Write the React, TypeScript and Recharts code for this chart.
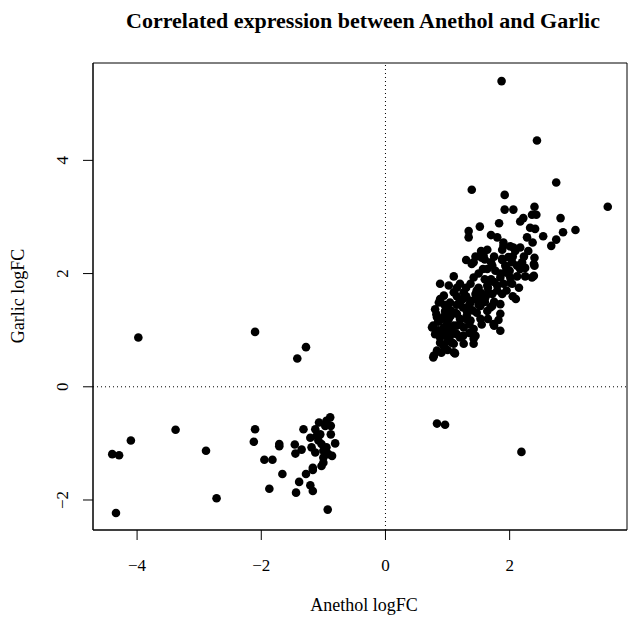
import React from "react"
import {
  ScatterChart,
  Scatter,
  XAxis,
  YAxis,
  ReferenceLine,
  ReferenceArea,
} from "recharts"

// genes up in both conditions (upper right cluster)
const upAnethol = [
  1.87, 2.44, 2.75, 1.39, 3.58, 1.92, 1.92, 2.06, 2.4, 2.36, 2.43, 2.17, 2.22, 1.83, 2.82,
  1.52, 1.34, 1.34, 1.7, 1.8, 2.33, 2.41, 2.86, 3.06, 2.54, 2.75, 2.67, 2.28, 2.37, 1.9,
  1.54, 1.64, 1.88, 2.01, 2.17, 2.09, 2.23, 2.4, 2.4, 1.3, 1.42, 1.55, 1.88, 1.98, 2.04,
  1.93, 2.12, 1.57, 1.77, 1.93, 2.17, 2.12, 2.01, 2.36, 1.85, 1.42, 1.1, 0.88, 1.02, 1.2,
  1.37, 1.64, 1.8, 2.04, 1.72, 1.88, 1.61, 1.45, 1.26, 1.1, 0.94, 0.86, 1.04, 1.2, 1.37,
  1.53, 1.72, 1.85, 0.8, 0.96, 1.12, 1.31, 1.47, 1.64, 1.85, 0.83, 1.02, 1.2, 1.37, 1.53,
  0.77, 0.94, 1.1, 1.26, 1.42, 1.74, 1.82, 0.8, 0.99, 1.15, 1.45, 0.88, 1.07, 1.26, 1.42,
  0.83, 0.96, 1.12, 0.77, 0.78, 1.1, 1.42, 1.85, 1.75, 0.75, 1.39, 1.58, 1.64, 1.72, 1.88,
  1.9, 2.06, 2.39, 2.39, 1.96, 2.01, 1.9, 1.8, 1.64, 1.47, 1.37, 1.69, 1.2, 0.88, 1.15,
  1.31, 0.99, 1.15, 0.88, 1.04, 1.2, 0.94, 1.1, 1.0, 1.3, 1.55, 1.15, 1.25, 1.6, 1.05,
  0.9, 1.35, 1.6, 1.7, 2.0, 2.2, 2.3, 1.75, 1.5, 1.0, 0.85, 2.1, 2.15,
  0.85, 0.95, 1.05, 1.15, 1.25, 1.0, 1.1, 1.2, 1.3, 1.4, 1.5, 0.9, 1.05, 1.35, 1.45,
  1.55, 1.65, 1.75, 1.85, 1.95, 2.05, 1.7, 1.5, 1.3, 1.15, 0.95, 0.82, 1.0, 0.9, 1.25,
  1.35, 1.55, 1.65, 1.75, 1.95, 2.05, 2.25, 2.25, 1.6, 1.45,
]
const upGarlic = [
  5.4, 4.35, 3.61, 3.48, 3.18, 3.39, 3.13, 3.13, 3.18, 3.04, 3.04, 2.92, 2.98, 2.89, 2.98,
  2.83, 2.75, 2.64, 2.68, 2.64, 2.81, 2.79, 2.73, 2.77, 2.66, 2.6, 2.49, 2.64, 2.55, 2.55,
  2.4, 2.42, 2.42, 2.48, 2.46, 2.4, 2.3, 2.28, 2.14, 2.24, 2.2, 2.28, 2.24, 2.29, 2.2,
  2.14, 2.14, 2.08, 2.05, 2.02, 2.08, 1.95, 1.93, 1.93, 1.93, 1.93, 1.95, 1.82, 1.79, 1.82,
  1.82, 1.79, 1.79, 1.82, 1.64, 1.64, 1.58, 1.64, 1.67, 1.67, 1.61, 1.49, 1.49, 1.46, 1.49,
  1.43, 1.43, 1.46, 1.37, 1.34, 1.31, 1.34, 1.31, 1.34, 1.29, 1.23, 1.2, 1.2, 1.17, 1.2,
  1.08, 1.05, 1.08, 1.05, 1.02, 1.11, 1.18, 0.93, 0.9, 0.93, 0.9, 0.78, 0.78, 0.76, 0.76,
  0.64, 0.67, 0.59, 0.52, 0.55, 0.61, 0.85, 0.99, 1.08, 1.05, 2.17, 2.32, 2.08, 2.14, 2.26,
  2.49, 2.46, 2.17, 1.96, 2.02, 1.84, 1.82, 1.7, 1.64, 1.7, 1.52, 1.4, 1.52, 1.55, 1.29,
  1.26, 1.11, 1.08, 0.87, 0.9, 0.87, 0.72, 0.76, 1.4, 1.6, 1.55, 1.75, 1.4, 1.9, 1.25,
  1.2, 1.1, 1.5, 1.9, 2.05, 2.2, 2.4, 2.3, 2.0, 1.0, 1.0, 1.55, 1.75,
  1.15, 1.25, 1.35, 1.45, 1.55, 0.8, 0.95, 1.1, 1.2, 1.35, 1.45, 0.95, 1.05, 1.45, 1.55,
  1.65, 1.75, 1.85, 2.0, 2.1, 2.3, 2.2, 1.75, 1.75, 1.6, 1.45, 1.28, 0.65, 0.6, 0.9,
  0.95, 1.1, 1.2, 1.5, 1.7, 1.6, 1.95, 2.1, 2.25, 2.3,
]

// genes down in both conditions (lower left cluster)
const downAnethol = [
  -4.4, -4.29, -4.1, -3.38, -2.89, -4.34, -2.72, -2.1, -2.12, -1.95, -1.82, -1.87, -1.71,
  -1.71, -1.66, -1.46, -1.45, -1.35, -1.32, -1.44, -1.39, -1.28, -1.21, -1.17, -1.17, -1.17,
  -0.93, -1.07, -0.89, -0.95, -0.97, -0.88, -1.13, -1.21, -1.11, -1.05, -0.88, -1.19, -1.13,
  -1.03, -0.95, -0.81, -0.92, -0.86, -1.0, -1.03, -1.0, -1.08, -1.0,
]
const downGarlic = [
  -1.19, -1.21, -0.95, -0.76, -1.13, -2.23, -1.97, -0.75, -0.97, -1.29, -1.29, -1.8, -1.01,
  -1.05, -1.54, -1.02, -1.18, -1.11, -0.75, -1.87, -1.68, -1.54, -1.74, -1.84, -1.43, -1.47,
  -2.17, -0.63, -0.54, -0.6, -0.69, -0.69, -0.75, -0.9, -0.87, -0.84, -0.84, -1.07, -1.16,
  -1.01, -1.07, -1.0, -1.19, -1.22, -1.25, -1.4, -1.34, -0.95, -1.13,
]

// genes with opposite direction
const mixedAnethol = [-3.98, -2.1, -1.28, -1.42, 0.83, 0.96, 2.19]
const mixedGarlic = [0.87, 0.97, 0.7, 0.5, -0.65, -0.67, -1.15]

const xTicks = [-4, -2, 0, 2]
const yTicks = [-2, 0, 2, 4]
const xDomain = [-4.71, 3.89]
const yDomain = [-2.53, 5.72]

const pair = (xs: number[], ys: number[]) => xs.map((x, i) => ({ x, y: ys[i] }))
const points = [
  ...pair(upAnethol, upGarlic),
  ...pair(downAnethol, downGarlic),
  ...pair(mixedAnethol, mixedGarlic),
]

const FONT = '"Liberation Serif", "Times New Roman", serif'
const fmt = (v: number) => (v < 0 ? `\u2212${Math.abs(v)}` : `${v}`)

const Dot = (p: any) => <circle cx={p.cx} cy={p.cy} r={4.3} fill="#000" />

const YTick = (p: any) => (
  <text
    x={p.x}
    y={p.y}
    transform={`rotate(-90, ${p.x}, ${p.y})`}
    textAnchor="middle"
    fontSize={17}
    fontFamily={FONT}
    fill="#000"
  >
    {fmt(p.payload.value)}
  </text>
)

export default function App() {
  return (
    <div style={{ position: "absolute", left: 0, top: 0, width: 633, height: 623, background: "#fff" }}>
      <div
        style={{
          position: "absolute",
          left: 96,
          width: 534,
          top: 10,
          textAlign: "center",
          fontFamily: FONT,
          fontWeight: "bold",
          fontSize: 22,
          lineHeight: "22px",
        }}
      >
        Correlated expression between Anethol and Garlic
      </div>
      <ScatterChart width={633} height={623} margin={{ top: 63, right: 6, bottom: 0, left: 0 }}>
        <XAxis
          type="number"
          dataKey="x"
          domain={xDomain}
          ticks={xTicks}
          allowDataOverflow
          height={93}
          tickSize={10}
          tickMargin={19}
          tickFormatter={fmt}
          stroke="#000"
          tick={{ fontSize: 17, fontFamily: FONT, fill: "#000" }}
          label={() => (
            <text x={364} y={611} textAnchor="middle" fontSize={18} fontFamily={FONT} fill="#000">
              Anethol logFC
            </text>
          )}
        />
        <YAxis
          type="number"
          dataKey="y"
          domain={yDomain}
          ticks={yTicks}
          allowDataOverflow
          width={93}
          tickSize={10}
          tickMargin={15}
          stroke="#000"
          tick={YTick}
          label={() => (
            <text
              x={24}
              y={296}
              transform="rotate(-90, 24, 296)"
              textAnchor="middle"
              fontSize={18}
              fontFamily={FONT}
              fill="#000"
            >
              Garlic logFC
            </text>
          )}
        />
        <ReferenceArea
          x1={xDomain[0]}
          x2={xDomain[1]}
          y1={yDomain[0]}
          y2={yDomain[1]}
          fill="none"
          stroke="#000"
          strokeWidth={1}
          fillOpacity={0}
        />
        <ReferenceLine x={0} stroke="#000" strokeDasharray="1 3" />
        <ReferenceLine y={0} stroke="#000" strokeDasharray="1 3" />
        <Scatter data={points} shape={Dot} isAnimationActive={false} />
      </ScatterChart>
    </div>
  )
}
